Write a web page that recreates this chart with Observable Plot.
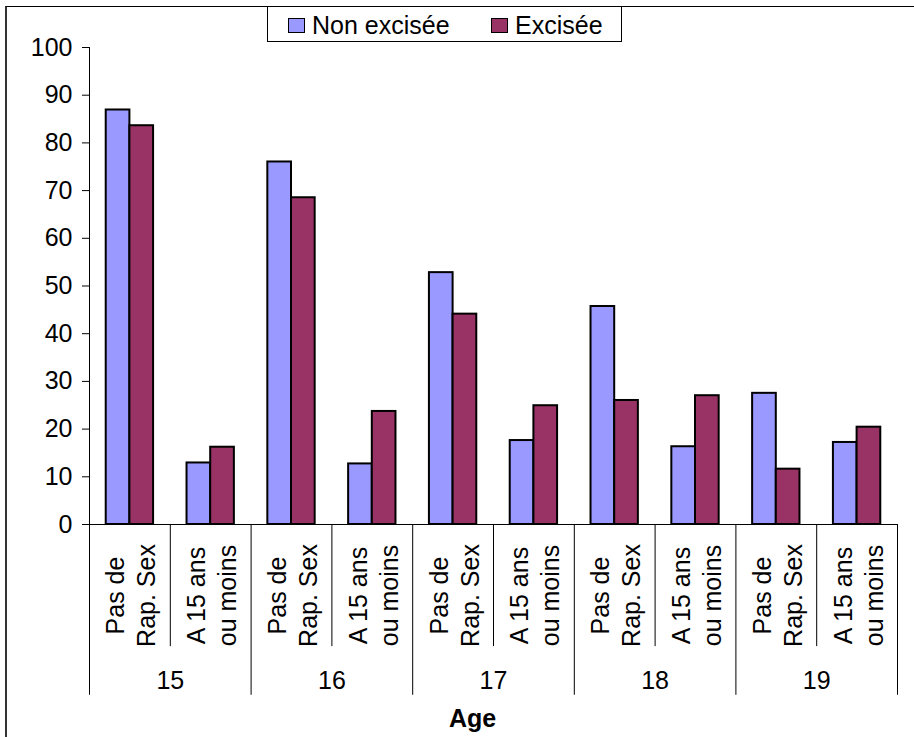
<!DOCTYPE html>
<html>
<head>
<meta charset="utf-8">
<script src="https://cdn.jsdelivr.net/npm/d3@7"></script>
<script src="https://cdn.jsdelivr.net/npm/@observablehq/plot@0.6"></script>
<style>
  html, body { margin: 0; padding: 0; background: #fff; }
  #wrap { position: relative; width: 914px; height: 737px; overflow: hidden;
          font-family: "Liberation Sans", Arial, sans-serif; }
  #border { position: absolute; left: 5px; top: 6px; width: 1000px; height: 1000px;
            border-top: 1px solid #000; border-left: 2px solid #333; }
  #chart { position: absolute; left: 0; top: 0; }
  #legend { position: absolute; left: 267px; top: 6px; width: 355px; height: 36px;
            box-sizing: border-box; border: 1px solid #000; background: #fff; font-size: 25px; }
  #legend .sw { position: absolute; top: 11px; width: 15px; height: 13px; border: 1px solid #000; }
  #legend .lab { position: absolute; top: 3px; line-height: 30px; white-space: nowrap; }
</style>
</head>
<body>
<div id="wrap">
  <div id="border"></div>
  <div id="chart"></div>
  <div id="legend"></div>
</div>
<script>
// Age groups and the two sub-categories shown under each age
const ages = ["15", "16", "17", "18", "19"];
const subgroups = ["Pas de\nRap. Sex", "A 15 ans\nou moins"];

// Series (percentages), one value per age × sub-category, in order
const series = ["Non excisée", "Excisée"];
const seriesColors = ["#9999FF", "#993366"];
const nonExcisee = [86.9, 12.9, 76.0, 12.7, 52.8, 17.6, 45.7, 16.3, 27.5, 17.2];
const excisee    = [83.6, 16.2, 68.5, 23.7, 44.1, 24.9, 26.0, 27.0, 11.6, 20.4];

const yTicks = [0, 10, 20, 30, 40, 50, 60, 70, 80, 90, 100];
const axisTitle = "Age";

// Category slots: each sub-category occupies one unit on the x scale
const groups = ages.flatMap((age, ai) =>
  subgroups.map((sub, si) => ({age, sub, i: ai * 2 + si})));

const values = [nonExcisee, excisee];
const bars = groups.flatMap(g =>
  series.map((s, si) => ({i: g.i, si, series: s, value: values[si][g.i]})));

// Bar width as a fraction of one category slot; the pair is centred in the slot
const BAR = 0.293;

// Separators below the axis: long ones between ages, short ones between sub-categories
const boundaries = d3.range(groups.length + 1).map(b => ({x: b, major: b % 2 === 0}));
const SUB_DEPTH = -25.6;
const AGE_DEPTH = -35.8;

const font = "'Liberation Sans', Arial, Helvetica, sans-serif";

const chart = Plot.plot({
  width: 914,
  height: 737,
  marginLeft: 89,
  marginRight: 17,
  marginTop: 47,
  marginBottom: 213,
  style: {fontFamily: font, fontSize: "25px", color: "black", background: "transparent", overflow: "visible"},
  x: {domain: [0, groups.length], axis: null},
  y: {domain: [0, 100], axis: null},
  color: {domain: series, range: seriesColors},
  marks: [
    Plot.axisY({ticks: yTicks, tickSize: 7, tickPadding: 10, fontSize: 25, label: null}),
    Plot.ruleX([0], {y1: 0, y2: 100, stroke: "black"}),
    Plot.rectY(bars, {
      x1: d => d.i + 0.5 + (d.si - 1) * BAR,
      x2: d => d.i + 0.5 + d.si * BAR,
      y1: 0,
      y2: "value",
      fill: "series",
      stroke: "black",
      strokeWidth: 2
    }),
    Plot.ruleY([0], {stroke: "black"}),
    Plot.ruleX(boundaries, {
      x: "x",
      y1: 0,
      y2: d => d.major ? AGE_DEPTH : SUB_DEPTH,
      stroke: "black",
      strokeWidth: 1
    }),
    Plot.text(groups, {
      x: d => d.i + 0.5,
      text: "sub",
      frameAnchor: "bottom",
      textAnchor: "middle",
      lineAnchor: "middle",
      dy: 71,
      rotate: -90,
      lineHeight: 1.24,
      fontSize: 25,
      fill: "black"
    }),
    Plot.text(ages, {
      x: (d, i) => 2 * i + 1,
      text: d => d,
      frameAnchor: "bottom",
      lineAnchor: "middle",
      dy: 156,
      fontSize: 25,
      fill: "black"
    }),
    Plot.text([axisTitle], {
      text: d => d,
      frameAnchor: "bottom",
      lineAnchor: "middle",
      dy: 194,
      dx: -21,
      fontSize: 25,
      fontWeight: "bold",
      fill: "black"
    })
  ]
});
document.getElementById("chart").appendChild(chart);

// Legend box above the plot
const legend = document.getElementById("legend");
const swatchLeft = [20, 223];
const labelLeft = [44, 247];
series.forEach((s, i) => {
  const sw = document.createElement("div");
  sw.className = "sw";
  sw.style.left = swatchLeft[i] + "px";
  sw.style.background = seriesColors[i];
  legend.appendChild(sw);
  const lab = document.createElement("div");
  lab.className = "lab";
  lab.style.left = labelLeft[i] + "px";
  lab.textContent = s;
  legend.appendChild(lab);
});
</script>
</body>
</html>
